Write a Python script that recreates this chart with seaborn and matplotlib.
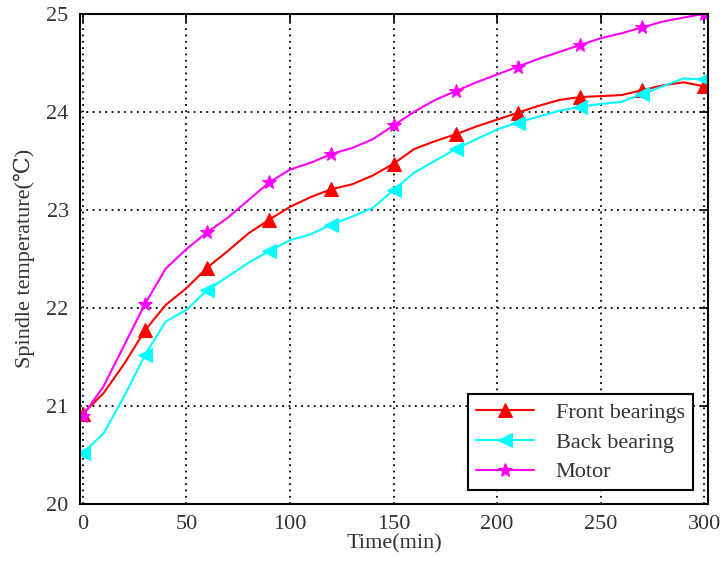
import numpy as np
import pandas as pd
import matplotlib
matplotlib.use("Agg")
import matplotlib.pyplot as plt
import seaborn as sns

time_min = [0, 10, 20, 30, 40, 50, 60, 70, 80, 90, 100, 110, 120, 130, 140, 150,
            160, 170, 180, 190, 200, 210, 220, 230, 240, 250, 260, 270, 280, 290, 300]
front_bearings = [20.92, 21.13, 21.43, 21.77, 22.03, 22.20, 22.41, 22.58, 22.76, 22.90,
                  23.03, 23.13, 23.21, 23.26, 23.35, 23.47, 23.62, 23.70, 23.77, 23.85,
                  23.92, 23.99, 24.06, 24.12, 24.15, 24.16, 24.17, 24.22, 24.27, 24.30, 24.26]
back_bearing = [20.52, 20.72, 21.10, 21.52, 21.86, 21.98, 22.18, 22.32, 22.46, 22.58,
                22.69, 22.75, 22.85, 22.93, 23.02, 23.20, 23.38, 23.50, 23.62, 23.72,
                23.82, 23.89, 23.95, 24.01, 24.05, 24.08, 24.10, 24.18, 24.26, 24.34, 24.33]
motor = [20.90, 21.20, 21.62, 22.04, 22.40, 22.60, 22.77, 22.92, 23.10, 23.28,
         23.41, 23.48, 23.57, 23.63, 23.72, 23.86, 24.00, 24.12, 24.21, 24.30,
         24.38, 24.46, 24.54, 24.61, 24.68, 24.75, 24.80, 24.86, 24.92, 24.96, 25.00]
series_names = ["Front bearings", "Back bearing", "Motor"]
x_ticks = [0, 50, 100, 150, 200, 250, 300]
y_ticks = [20, 21, 22, 23, 24, 25]

sns.set_style("white")
plt.rcParams['font.family'] = ['Liberation Serif', 'DejaVu Serif']

fig = plt.figure(figsize=(7.25, 5.72), dpi=100)
ax = fig.add_axes([0.110, 0.119, 0.867, 0.857])

df = pd.DataFrame({"Time": time_min * 3,
                   "Temp": front_bearings + back_bearing + motor,
                   "Series": [series_names[0]] * len(time_min)
                   + [series_names[1]] * len(time_min)
                   + [series_names[2]] * len(time_min)})

colors = ["#ff0000", "#00ffff", "#ff00ff"]
markers = ["^", "<", "*"]
msizes = [10, 10, 10]
for name, c, m, ms in zip(series_names, colors, markers, msizes):
    sub = df[df["Series"] == name]
    sns.lineplot(data=sub, x="Time", y="Temp", ax=ax, color=c, lw=1.5,
                 marker=m, markersize=ms, markevery=3, markeredgecolor=c,
                 markerfacecolor=c, label=name)

ax.set_xlim(-1.5, 302)
ax.set_ylim(20, 25)
ax.set_xticks(x_ticks)
ax.set_yticks(y_ticks)
ax.grid(True, color="black", linestyle=(0, (1, 2.5)), linewidth=1.3)
for s in ax.spines.values():
    s.set_color("black")
    s.set_linewidth(1.5)
ax.tick_params(direction="in", length=6, width=1.2, labelsize=16, colors="black",
               labelcolor="#333333", top=True, right=True, pad=8)
ax.set_xlabel("Time(min)", fontsize=16, labelpad=0, color="#333333")
ax.set_ylabel("Spindle temperature(℃)", fontsize=16, labelpad=8, color="#333333")

leg = ax.legend(loc="lower right", bbox_to_anchor=(0.975, 0.028), borderaxespad=0,
                fontsize=16, frameon=True, fancybox=False, edgecolor="black",
                framealpha=1, handlelength=2.6, handletextpad=1.0, borderpad=0.35,
                labelspacing=0.42)
leg.get_frame().set_linewidth(1.5)
for t in leg.get_texts():
    t.set_color("#333333")

fig.savefig("out.png", dpi=100)
